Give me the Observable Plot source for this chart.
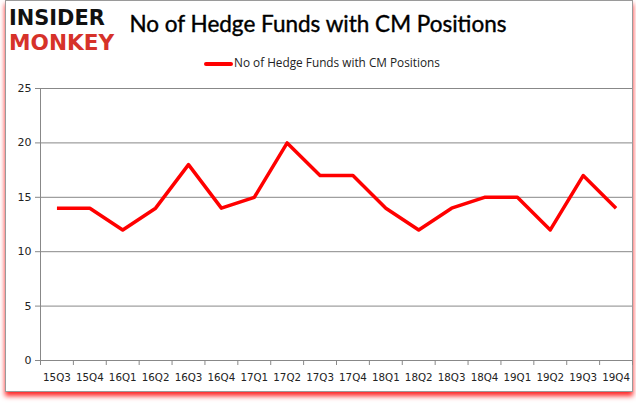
<!DOCTYPE html>
<html><head><meta charset="utf-8">
<script src="https://cdn.jsdelivr.net/npm/d3@7"></script>
<script src="https://cdn.jsdelivr.net/npm/@observablehq/plot@0.6"></script>
<style>
body{margin:0;background:#fff;}
#wrap{position:relative;width:636px;height:405px;overflow:hidden;font-family:"DejaVu Sans",sans-serif;}
#frame{position:absolute;left:5px;top:0px;width:626px;height:390px;border:1px solid #9a9a9a;box-shadow:0 4px 5px rgba(255,0,0,0.85);background:#fff;}
#chart{position:absolute;left:0;top:0;}
#title{position:absolute;left:118px;top:10px;width:400px;text-align:center;font-family:Lato,"Open Sans",sans-serif;font-size:22.5px;color:#000;white-space:nowrap;-webkit-text-stroke:0.4px #000;}
#legend{position:absolute;left:204px;top:54px;font-size:11.8px;font-family:"Open Sans",Lato,sans-serif;color:#222;white-space:nowrap;}
#legend span.sw{display:inline-block;width:29px;height:4px;background:#ff0000;border-radius:2px;vertical-align:middle;margin-right:1px;}
.logo{position:absolute;left:9px;font-family:"DejaVu Sans",sans-serif;font-weight:bold;white-space:nowrap;transform-origin:left;}
#logoA{top:5px;font-size:22px;line-height:26px;color:#111;transform:scaleX(0.95);}
#logoB{top:31px;font-size:21px;line-height:25px;color:#d6322a;transform:scaleX(1.03);}
</style></head>
<body>
<div id="wrap">
<div id="frame"></div>
<div id="chart"></div>
<div id="logoA" class="logo">INSIDER</div>
<div id="logoB" class="logo">MONKEY</div>
<div id="title">No of Hedge Funds with CM Positions</div>
<div id="legend"><span class="sw"></span>No of Hedge Funds with CM Positions</div>
</div>
<script>
const quarters = ["15Q3","15Q4","16Q1","16Q2","16Q3","16Q4","17Q1","17Q2","17Q3","17Q4","18Q1","18Q2","18Q3","18Q4","19Q1","19Q2","19Q3","19Q4"];
const funds = [14,14,12,14,18,14,15,20,17,17,14,12,14,15,15,12,17,14];
const yTicks = [0,5,10,15,20,25];

const data = quarters.map((q,i)=>({i, q, v: funds[i]}));
const idx = quarters.map((q,i)=>i);
const bounds = d3.range(quarters.length+1).map(i=>i-0.5);

const plot = Plot.plot({
  width: 636, height: 405,
  marginLeft: 40, marginRight: 4, marginTop: 88, marginBottom: 45,
  style: {background: "transparent", fontFamily: "DejaVu Sans, sans-serif", fontSize: "10px", color: "#222"},
  x: {type: "linear", domain: [-0.5, quarters.length-0.5]},
  y: {domain: [0,25]},
  marks: [
    Plot.gridY(yTicks.filter(t=>t>0), {stroke: "#888", strokeOpacity: 1, strokeWidth: 1}),
    Plot.ruleX([-0.5], {stroke: "#888"}),
    Plot.ruleY([0], {stroke: "#888"}),
    Plot.axisY({ticks: yTicks, tickSize: 5, tickPadding: 4, stroke: "#888", label: null, fontSize: 11}),
    Plot.axisX({ticks: bounds, tickSize: 5, tickFormat: ()=>"", stroke: "#888", label: null}),
    Plot.axisX({ticks: idx, tickSize: 0, tickPadding: 13, tickFormat: i=>quarters[i], label: null, fontSize: 10.3}),
    Plot.line(data, {x: "i", y: "v", stroke: "#ff0000", strokeWidth: 3.5, strokeLinejoin: "round", strokeLinecap: "butt"})
  ]
});
document.getElementById("chart").appendChild(plot);
</script>
</body></html>
